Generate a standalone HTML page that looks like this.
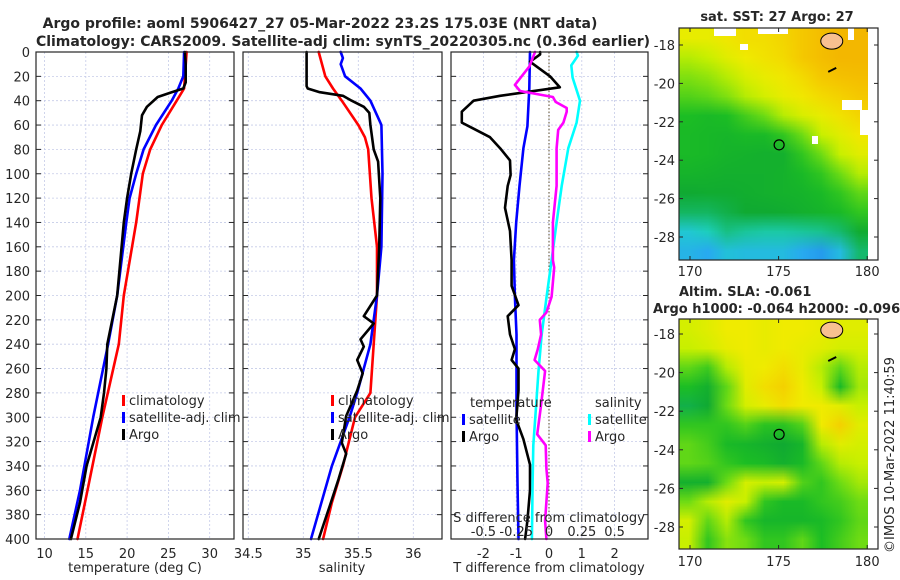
<!DOCTYPE html>
<html><head><meta charset="utf-8"><style>
html,body{margin:0;padding:0;background:#fff;}
#wrap{position:relative;width:900px;height:580px;overflow:hidden;font-family:"DejaVu Sans","Liberation Sans",sans-serif;}
canvas{position:absolute;image-rendering:auto;}
svg{position:absolute;left:0;top:0;}
text{font-family:"DejaVu Sans","Liberation Sans",sans-serif;fill:#262626;}
</style></head><body>
<div id="wrap">
<canvas id="sstMap" width="10" height="12" style="left:679px;top:28px;width:189px;height:232px;"></canvas>
<canvas id="slaMap" width="10" height="12" style="left:679px;top:319px;width:189px;height:230px;"></canvas>
<svg id="fig" width="900" height="580" xmlns="http://www.w3.org/2000/svg"></svg>
</div>
<script>
// ---------- profile data ----------
const tClimDepth=[0,30,40,60,80,100,140,200,240,300,360,400];
const tClim=[27.2,26.9,26.0,24.2,22.8,21.9,21.1,19.6,19.0,17.0,15.2,14.0];
const tSatDepth=[0,20,30,40,60,80,100,120,140,200,240,300,360,400];
const tSat=[26.9,26.8,26.2,25.4,23.5,22.0,21.1,20.3,19.9,18.8,17.7,15.9,14.3,13.0];
const tArgoDepth=[0,10,25,30,33,37,45,52,65,80,100,120,140,200,240,260,280,300,340,370,400];
const tArgo=[27.0,27.1,27.1,26.8,25.4,23.7,22.4,21.8,21.6,21.1,20.5,20.0,19.6,18.8,17.6,17.5,17.2,16.8,15.1,14.3,13.2];

const sClimDepth=[0,20,30,40,60,70,80,120,160,200,240,280,300,340,370,400];
const sClim=[35.14,35.20,35.27,35.35,35.50,35.56,35.59,35.62,35.67,35.67,35.64,35.61,35.47,35.36,35.26,35.18];
const sSatDepth=[0,5,10,20,30,40,60,100,160,200,240,280,300,340,400];
const sSat=[35.34,35.36,35.34,35.38,35.52,35.61,35.71,35.72,35.71,35.67,35.61,35.49,35.42,35.26,35.07];
const sArgoDepth=[0,28,30,33,36,40,45,50,60,80,90,120,160,200,217,223,236,242,253,264,278,299,321,330,351,373,400];
const sArgo=[35.03,35.03,35.04,35.15,35.36,35.44,35.55,35.60,35.61,35.64,35.68,35.70,35.69,35.67,35.55,35.64,35.52,35.55,35.49,35.54,35.49,35.39,35.35,35.39,35.32,35.24,35.14];

const dTSatDepth=[0,30,61,79,110,140,171,201,232,293,354,400];
const dTSat=[-0.58,-0.60,-0.66,-0.78,-0.90,-1.00,-1.07,-1.04,-0.99,-0.99,-0.96,-0.93];
const dTArgoDepth=[0,2,8,20,29,36,40,49,58,63,70,79,89,101,110,128,147,171,192,208,217,232,244,253,260,278,302,318,339,360,385,400];
const dTArgo=[-0.27,-0.27,-0.58,0.03,0.33,-1.49,-2.3,-2.66,-2.66,-2.3,-1.8,-1.49,-1.19,-1.17,-1.26,-1.34,-1.19,-1.14,-1.14,-0.93,-1.26,-1.19,-1.04,-1.14,-0.93,-0.93,-1.0,-0.78,-0.58,-0.58,-0.66,-0.73];
const dSSatDepth=[0,3,11,21,40,58,79,110,140,171,201,232,262,293,323,354,400];
const dSSat=[0.21,0.22,0.17,0.18,0.236,0.21,0.147,0.097,0.058,0.02,-0.018,-0.056,-0.08,-0.10,-0.12,-0.125,-0.13];
const dSArgoDepth=[0,12,27,32,37,41,46,49,58,64,79,110,140,171,177,201,214,220,232,244,253,262,293,314,323,342,354,385,400];
const dSArgo=[-0.107,-0.15,-0.26,-0.22,0.03,0.05,0.135,0.135,0.11,0.07,0.058,0.058,0.03,0.03,0.04,0.02,-0.02,-0.07,-0.06,-0.085,-0.11,-0.03,-0.064,-0.09,-0.025,-0.02,-0.01,-0.03,-0.02];

const depthTicks=[0,20,40,60,80,100,120,140,160,180,200,220,240,260,280,300,320,340,360,380,400];
const tTicks=[10,15,20,25,30];
const sTicks=[34.5,35,35.5,36];
const dTTicks=[-2,-1,0,1,2];
const dSTicks=[-0.5,-0.25,0,0.25,0.5];
const dSTickLabels=["-0.5","-0.25","0","0.25","0.5"];

// ---------- map data (0=cold/low, 1=warm/high) ----------
const sstGrid=[
[0.80,0.80,0.83,0.85,0.85,0.87,0.9,0.93,0.95,0.95],
[0.70,0.72,0.78,0.82,0.84,0.86,0.9,0.93,0.95,0.95],
[0.64,0.66,0.7,0.76,0.8,0.83,0.86,0.9,0.92,0.93],
[0.58,0.6,0.64,0.7,0.75,0.8,0.83,0.86,0.88,0.9],
[0.5,0.48,0.5,0.56,0.62,0.7,0.76,0.8,0.84,0.87],
[0.48,0.47,0.46,0.48,0.48,0.53,0.62,0.72,0.78,0.83],
[0.48,0.47,0.45,0.44,0.43,0.43,0.53,0.62,0.72,0.78],
[0.45,0.44,0.43,0.43,0.43,0.44,0.48,0.53,0.62,0.7],
[0.4,0.41,0.41,0.42,0.43,0.44,0.45,0.48,0.53,0.6],
[0.36,0.36,0.38,0.4,0.4,0.41,0.43,0.45,0.48,0.53],
[0.24,0.28,0.33,0.31,0.3,0.3,0.31,0.32,0.35,0.41],
[0.18,0.15,0.22,0.2,0.2,0.2,0.15,0.12,0.2,0.35]];
const slaGrid=[
[0.75,0.78,0.82,0.82,0.8,0.82,0.82,0.8,0.78,0.78],
[0.72,0.75,0.8,0.82,0.8,0.82,0.8,0.78,0.75,0.75],
[0.6,0.55,0.7,0.8,0.82,0.85,0.8,0.7,0.6,0.7],
[0.5,0.43,0.6,0.78,0.85,0.88,0.82,0.72,0.48,0.68],
[0.38,0.4,0.62,0.75,0.8,0.85,0.82,0.82,0.78,0.72],
[0.53,0.53,0.53,0.58,0.52,0.52,0.58,0.82,0.88,0.78],
[0.6,0.56,0.48,0.46,0.43,0.4,0.46,0.7,0.78,0.75],
[0.6,0.58,0.53,0.5,0.48,0.43,0.48,0.6,0.7,0.72],
[0.43,0.43,0.62,0.75,0.72,0.75,0.58,0.53,0.62,0.68],
[0.62,0.7,0.78,0.72,0.53,0.48,0.48,0.53,0.56,0.62],
[0.75,0.6,0.7,0.53,0.46,0.46,0.46,0.48,0.53,0.6],
[0.72,0.53,0.65,0.62,0.53,0.53,0.6,0.5,0.56,0.62]];
const lonTicks=[170,175,180];
const latTicks=[-18,-20,-22,-24,-26,-28];

const cmapStops=[[0,[26,100,220]],[0.15,[40,170,240]],[0.27,[30,210,200]],[0.4,[16,170,50]],[0.5,[28,190,36]],[0.62,[110,220,20]],[0.72,[200,240,0]],[0.82,[240,235,0]],[0.9,[245,200,0]],[1,[240,165,0]]];
function cmap(v){for(let i=1;i<cmapStops.length;i++){if(v<=cmapStops[i][0]){const a=cmapStops[i-1],b=cmapStops[i];const t=(v-a[0])/(b[0]-a[0]);return a[1].map((c,k)=>Math.round(c+(b[1][k]-c)*t));}}return cmapStops[cmapStops.length-1][1];}
function paint(id,grid){const c=document.getElementById(id),ctx=c.getContext('2d');const img=ctx.createImageData(10,12);grid.forEach((row,r)=>row.forEach((v,q)=>{const col=cmap(v);const i=(r*10+q)*4;img.data[i]=col[0];img.data[i+1]=col[1];img.data[i+2]=col[2];img.data[i+3]=255;}));ctx.putImageData(img,0,0);}
paint('sstMap',sstGrid);paint('slaMap',slaGrid);

// ---------- drawing ----------
const NS='http://www.w3.org/2000/svg';
const svg=document.getElementById('fig');
function el(tag,attrs,parent){const e=document.createElementNS(NS,tag);for(const k in attrs)e.setAttribute(k,attrs[k]);(parent||svg).appendChild(e);return e;}
function txt(s,x,y,size,anchor,weight,parent){const t=el('text',{x:x,y:y,'font-size':size,'text-anchor':anchor||'start','font-weight':weight||'normal'},parent);t.textContent=s;return t;}

const Y0=52,Y1=539;
const yD=d=>Y0+(Y1-Y0)*d/400;
const xT=v=>44.5+(v-10)*8.26;
const xS=v=>248.3+(v-34.5)*110;
const xDT=v=>549+v*32.8;
const xDS=v=>549+v*131.2;

const panels=[{x0:36,x1:234,name:'temperature-panel'},{x0:243,x1:442,name:'salinity-panel'},{x0:451,x1:648,name:'difference-panel'}];

function panelFrame(p,xticks,xfn,labels){
  const g=el('g',{});
  
  
  el('rect',{x:p.x0,y:Y0,width:p.x1-p.x0,height:Y1-Y0,fill:'#fff'},g);
  depthTicks.forEach(d=>{el('line',{x1:p.x0,x2:p.x1,y1:yD(d),y2:yD(d),stroke:'#c5cbe8','stroke-width':0.8,'stroke-dasharray':'2,2'},g);
    el('line',{x1:p.x0,x2:p.x0+5,y1:yD(d),y2:yD(d),stroke:'#262626','stroke-width':1},g);
    el('line',{x1:p.x1-5,x2:p.x1,y1:yD(d),y2:yD(d),stroke:'#262626','stroke-width':1},g);});
  xticks.forEach((v,i)=>{const x=xfn(v);el('line',{x1:x,x2:x,y1:Y0,y2:Y1,stroke:'#c5cbe8','stroke-width':0.8,'stroke-dasharray':'2,2'},g);
    if(labels){const t=txt(labels[i],x,558,13,'middle');}});
  return g;
}
function line(depths,vals,xfn,color,name,w){
  const pts=depths.map((d,i)=>xfn(vals[i]).toFixed(1)+','+yD(d).toFixed(1)).join(' ');
  const pl=el('polyline',{points:pts,fill:'none',stroke:color,'stroke-width':w||2.6,'stroke-linejoin':'round','stroke-linecap':'round'});
  
  
}
function frameBorder(p){el('rect',{x:p.x0,y:Y0,width:p.x1-p.x0,height:Y1-Y0,fill:'none',stroke:'#262626','stroke-width':1.2});}

// titles
let t1=txt('Argo profile: aoml 5906427_27 05-Mar-2022 23.2S 175.03E (NRT data)',320,28,14,'middle','bold');

let t2=txt('Climatology: CARS2009. Satellite-adj clim: synTS_20220305.nc (0.36d earlier)',343,46,14,'middle','bold');


// panel 1
panelFrame(panels[0],tTicks,xT,tTicks.map(String));
depthTicks.forEach(d=>{const t=txt(String(d),30,yD(d)+5,13,'end');});
line(tClimDepth,tClim,xT,'#ff0000','temp-climatology-line');
line(tSatDepth,tSat,xT,'#0000ff','temp-satellite-line');
line(tArgoDepth,tArgo,xT,'#000000','temp-argo-line');
frameBorder(panels[0]);
let xt1=txt('temperature (deg C)',135,572,13,'middle');

// panel 2
panelFrame(panels[1],sTicks,xS,["34.5","35","35.5","36"]);
line(sClimDepth,sClim,xS,'#ff0000','sal-climatology-line');
line(sSatDepth,sSat,xS,'#0000ff','sal-satellite-line');
line(sArgoDepth,sArgo,xS,'#000000','sal-argo-line');
frameBorder(panels[1]);
let xt2=txt('salinity',342,572,13,'middle');

// legends panels 1&2
function legendEntry(x,y,color,label,name){const g=el('g',{});
  el('rect',{x:x,y:y-10,width:3,height:11,fill:color},g);txt(label,x+7,y,13,'start','normal',g);}
[[122,'p1'],[331,'p2']].forEach(([x,p])=>{
  legendEntry(x,405,'#ff0000','climatology','legend-entry-climatology');
  legendEntry(x,422,'#0000ff','satellite-adj. clim','legend-entry-satellite-adj');
  legendEntry(x,439,'#000000','Argo','legend-entry-argo');});

// panel 3
panelFrame(panels[2],dTTicks,xDT,dTTicks.map(String));
el('line',{x1:xDT(0),x2:xDT(0),y1:Y0,y2:Y1,stroke:'#5a4a2a','stroke-width':1,'stroke-dasharray':'1.5,2'});
line(dTSatDepth,dTSat,xDT,'#0000ff','tdiff-satellite-line');
line(dTArgoDepth,dTArgo,xDT,'#000000','tdiff-argo-line');
line(dSSatDepth,dSSat,xDS,'#00ffff','sdiff-satellite-line');
line(dSArgoDepth,dSArgo,xDS,'#ff00ff','sdiff-argo-line');
frameBorder(panels[2]);
let lt=txt('temperature',470,407,13);
let ls=txt('salinity',595,407,13);
legendEntry(462,424,'#0000ff','satellite','legend-entry-t-satellite');
legendEntry(462,441,'#000000','Argo','legend-entry-t-argo');
legendEntry(588,424,'#00ffff','satellite','legend-entry-s-satellite');
legendEntry(588,441,'#ff00ff','Argo','legend-entry-s-argo');
let sdt=txt('S difference from climatology',549,522,13,'middle');
dSTicks.forEach((v,i)=>{const t=txt(dSTickLabels[i],xDS(v),536,13,'middle');});
let tdt=txt('T difference from climatology',549,572,13,'middle');

// maps
function mapFrame(top,bot,lat18y,lat28y,name,labelY){
  const g=el('g',{});
  const lonX=v=>690+(v-170)*17.72;
  const latY=v=>lat18y+(-18-v)*(lat28y-lat18y)/10;
  el('rect',{x:868,y:top,width:10,height:bot-top,fill:'#fff'},g);
  el('rect',{x:679,y:top,width:199,height:bot-top,fill:'none',stroke:'#262626','stroke-width':1.2},g);
  lonTicks.forEach(v=>{const x=lonX(v);el('line',{x1:x,x2:x,y1:bot,y2:bot-4,stroke:'#262626'},g);el('line',{x1:x,x2:x,y1:top,y2:top+4,stroke:'#262626'},g);txt(String(v),x,labelY,13,'middle','normal',g);});
  latTicks.forEach(v=>{const y=latY(v);el('line',{x1:679,x2:683,y1:y,y2:y,stroke:'#262626'},g);el('line',{x1:874,x2:878,y1:y,y2:y,stroke:'#262626'},g);txt(String(v),675,y+5,13,'end','normal',g);});
  el('ellipse',{cx:lonX(178),cy:latY(-17.8),rx:11,ry:8,fill:'#f8c090',stroke:'#000','stroke-width':1},g);
  el('path',{d:`M${lonX(177.8)} ${latY(-19.4)} l8 -4`,stroke:'#000','stroke-width':2},g);
  el('circle',{cx:lonX(175.03),cy:latY(-23.2),r:5,fill:'none',stroke:'#000','stroke-width':1.2},g);
  return g;
}
[[714,28,22,8],[758,28,30,6],[740,44,8,6],[848,28,6,12],[842,100,20,10],[860,110,8,25],[812,136,6,8]].forEach(r=>{const w=el('rect',{x:r[0],y:r[1],width:r[2],height:r[3],fill:'#fff'});});
mapFrame(28,260,45,237,'sst-map',276);
mapFrame(319,549,334,527,'sla-map',566);
let mt1=txt('sat. SST: 27 Argo: 27',777,21,13,'middle','bold');
let mt2=txt('Altim. SLA: -0.061',679,296,13,'start','bold');
let mt3=txt('Argo h1000: -0.064 h2000: -0.096',653,313,13,'start','bold');
let cp=txt('©IMOS 10-Mar-2022 11:40:59',0,0,13,'middle');cp.setAttribute('transform','translate(894,455) rotate(-90)');

</script>
</body></html>
